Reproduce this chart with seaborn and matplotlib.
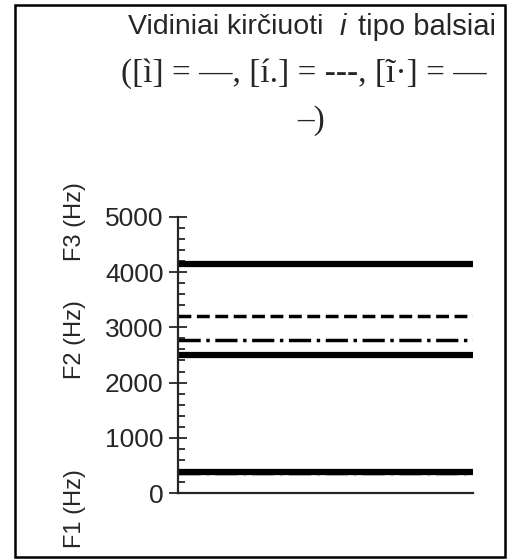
import pandas as pd
import matplotlib
matplotlib.use('Agg')
import matplotlib.pyplot as plt
import seaborn as sns
from matplotlib.patches import Rectangle
from matplotlib.ticker import MultipleLocator

# Formant values (Hz) for the three stressed i-type vowels
vowels = ['ì', 'í.', 'ĩ·']
f1 = [380, 375, 370]
f2 = [2500, 3200, 2770]
f3 = [4150, 4150, 4150]
styles = ['-', '--', '-.']
widths = [4.5, 2.5, 2.5]

rows = []
for v, a, b, c in zip(vowels, f1, f2, f3):
    for name, val in zip(['F1', 'F2', 'F3'], [a, b, c]):
        for x in [0, 1]:
            rows.append({'vowel': v, 'formant': name, 'x': x, 'Hz': val})
data = pd.DataFrame(rows)

sns.set_style('ticks')
plt.rcParams['font.family'] = ['Liberation Sans', 'DejaVu Sans']

fig = plt.figure(figsize=(5.09, 5.59), dpi=100)
ax = fig.add_axes([0.35, 0.118, 0.579, 0.494])

for v, ls, lw in zip(vowels, styles, widths):
    sub = data[data['vowel'] == v]
    sns.lineplot(data=sub, x='x', y='Hz', units='formant', estimator=None,
                 color='black', linestyle=ls, linewidth=lw, ax=ax)

ax.set_xlim(0, 1)
ax.set_ylim(0, 5000)
ax.set_xticks([])
ax.set_xlabel('')
ax.set_ylabel('')
ax.yaxis.set_major_locator(MultipleLocator(1000))
ax.yaxis.set_minor_locator(MultipleLocator(200))
ax.tick_params(axis='y', which='major', direction='inout', length=13, width=1.3,
               labelsize=19, pad=4)
ax.tick_params(axis='y', which='minor', direction='in', length=5, width=1.3)
for s in ['top', 'right']:
    ax.spines[s].set_visible(False)
for s in ['left', 'bottom']:
    ax.spines[s].set_linewidth(1.6)

# formant axis labels
fig.text(75 / 509, 1 - 222 / 559, 'F3 (Hz)', rotation=90, ha='center', va='center', fontsize=17)
fig.text(75 / 509, 1 - 340 / 559, 'F2 (Hz)', rotation=90, ha='center', va='center', fontsize=17)
fig.text(75 / 509, 1 - 509 / 559, 'F1 (Hz)', rotation=90, ha='center', va='center', fontsize=17)

# title block
ty = 1 - 27 / 559
fig.text(128 / 509, ty, 'Vidiniai kirčiuoti', ha='left', va='center', fontsize=20.5)
fig.text(340 / 509, ty, 'i', ha='left', va='center', fontsize=21, style='italic')
fig.text(496 / 509, ty, 'tipo balsiai', ha='right', va='center', fontsize=21)

serif = ['Liberation Serif', 'DejaVu Serif']
fig.text(487 / 509, 1 - 74 / 559, '([ì] = —, [í.] = ---, [ĩ·] = —',
         ha='right', va='center', fontsize=24, family=serif)
fig.text(311 / 509, 1 - 121 / 559, '–)',
         ha='center', va='center', fontsize=24, family=serif)

# outer frame
fig.patches.append(Rectangle((15 / 509, 1 - 557 / 559), 490 / 509, 552 / 559,
                             transform=fig.transFigure, fill=False,
                             edgecolor='black', linewidth=1.8))

fig.savefig('out.png', dpi=100)
